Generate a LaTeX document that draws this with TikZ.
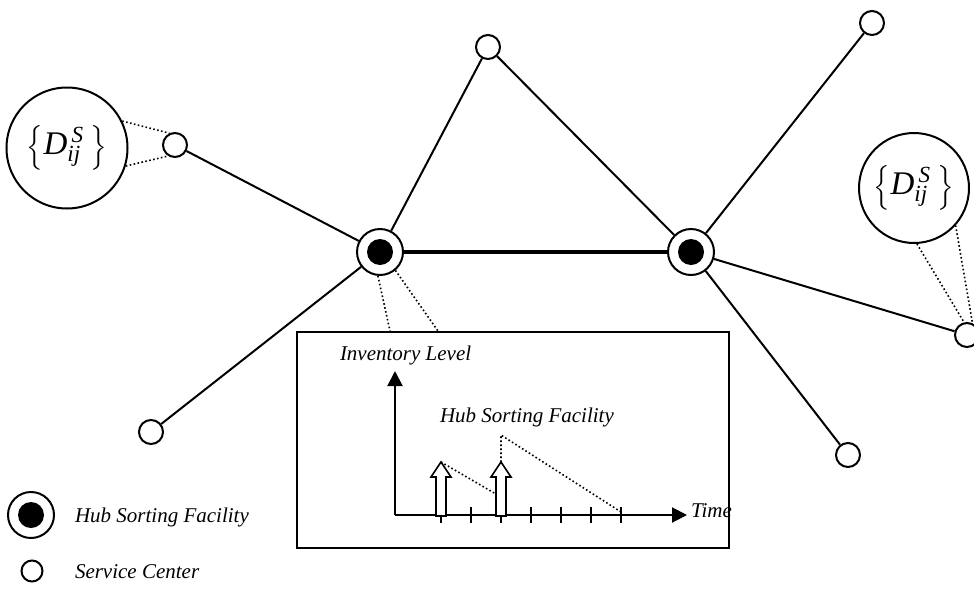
\documentclass[tikz,border=0pt]{standalone}
\usepackage{amsmath}
\usepackage{fontspec}
\setmainfont{Liberation Serif}
\usetikzlibrary{arrows.meta}
\newcommand{\demandset}{$\Big\{\textit{D}^{\,\textit{S}}_{\textit{ij}}\;\Big\}$}
\begin{document}
\begin{tikzpicture}[x=1pt,y=-1pt,
  line width=2pt,
  lbl/.style={font=\fontsize{21}{24}\selectfont\itshape, inner sep=0pt},
  svc/.style={circle, draw, fill=white, minimum size=24pt, inner sep=0pt},
  hub/.style={circle, draw, fill=white, minimum size=46pt, inner sep=0pt,
    path picture={\fill[black] (path picture bounding box.center) circle (13pt);}},
  dem/.style={circle, draw, inner sep=0pt, font=\fontsize{33}{36}\selectfont},
  link/.style={line width=2pt},
  trunk/.style={line width=4.5pt},
  dots/.style={line width=1.6pt, dash pattern=on 1.6pt off 2.4pt},
  axis/.style={line width=2pt, -{Triangle[length=15pt,width=15pt]}},
  supply/.style={draw, fill=white, line width=1.6pt, line join=miter}
]
\useasboundingbox (0,0) rectangle (974,592);
\clip (0,0) rectangle (974,592);

% network nodes
\node[hub] (H1) at (380,252) {};
\node[hub] (H2) at (691,252) {};
\node[svc] (L)  at (175,145) {};
\node[svc] (T)  at (488,47) {};
\node[svc] (TR) at (872,23) {};
\node[svc] (BL) at (151,432) {};
\node[svc] (BR) at (848,455) {};
\node[svc] (R)  at (967,335) {};

% demand sets attached to service centers
\node[dem, minimum size=121pt] (DL) at (67,148) {\demandset};
\node[dem, minimum size=110pt] (DR) at (914,188) {\demandset};

% links
\draw[trunk] (H1) -- (H2);
\draw[link] (H1) -- (L);
\draw[link] (H1) -- (T);
\draw[link] (H1) -- (BL);
\draw[link] (T) -- (H2);
\draw[link] (H2) -- (TR);
\draw[link] (H2) -- (BR);
\draw[link] (H2) -- (R);

% dotted callouts
\draw[dots] (DL.26) -- (L.115);
\draw[dots] (DL.-17) -- (L.-122);
\draw[dots] (DR.-87) -- (R.103);
\draw[dots] (DR.-42) -- (R.65);

% inventory inset
\node[draw, line width=2pt, minimum width=432pt, minimum height=216pt, inner sep=0pt, anchor=north west] (box) at (296,331) {};
\coordinate (c1) at (390,331);
\coordinate (c2) at (438,331);
\draw[dots] (H1.-95) -- (c1);
\draw[dots] (H1.-50) -- (c2);

\coordinate (O) at (395,515);
\coordinate (Ytip) at (395,371);
\coordinate (Xtip) at (687,515);
\draw[axis] (O) -- (Ytip);
\draw[axis] (O) -- (Xtip);
\foreach \x in {441,471,501,531,561,591,621}
  \draw[line width=2pt] (\x,507) -- (\x,523);

\node[lbl, anchor=base west] (ilev) at (339,360) {Inventory Level};
\node[lbl, anchor=base west] (hsf) at (439,422) {Hub Sorting Facility};
\node[lbl, anchor=base west] (time) at (690,517) {Time};

% inventory profile
\draw[dots] (441,462) -- (501,497);
\draw[supply] (436,516) -- (436,477) -- (431,477) -- (441,462) -- (451,477) -- (446,477) -- (446,516) -- cycle;
\draw[supply] (496,516) -- (496,477) -- (491,477) -- (501,462) -- (511,477) -- (506,477) -- (506,516) -- cycle;
\draw[dots] (501,462) -- (501,435) -- (621,512);

% legend
\node[hub] (lhub) at (31,515) {};
\node[lbl, anchor=base west] (lhubt) at (74,522) {Hub Sorting Facility};
\node[svc, minimum size=21pt] (lsvc) at (32,571) {};
\node[lbl, anchor=base west] (lsvct) at (74,578) {Service Center};
\end{tikzpicture}
\end{document}
